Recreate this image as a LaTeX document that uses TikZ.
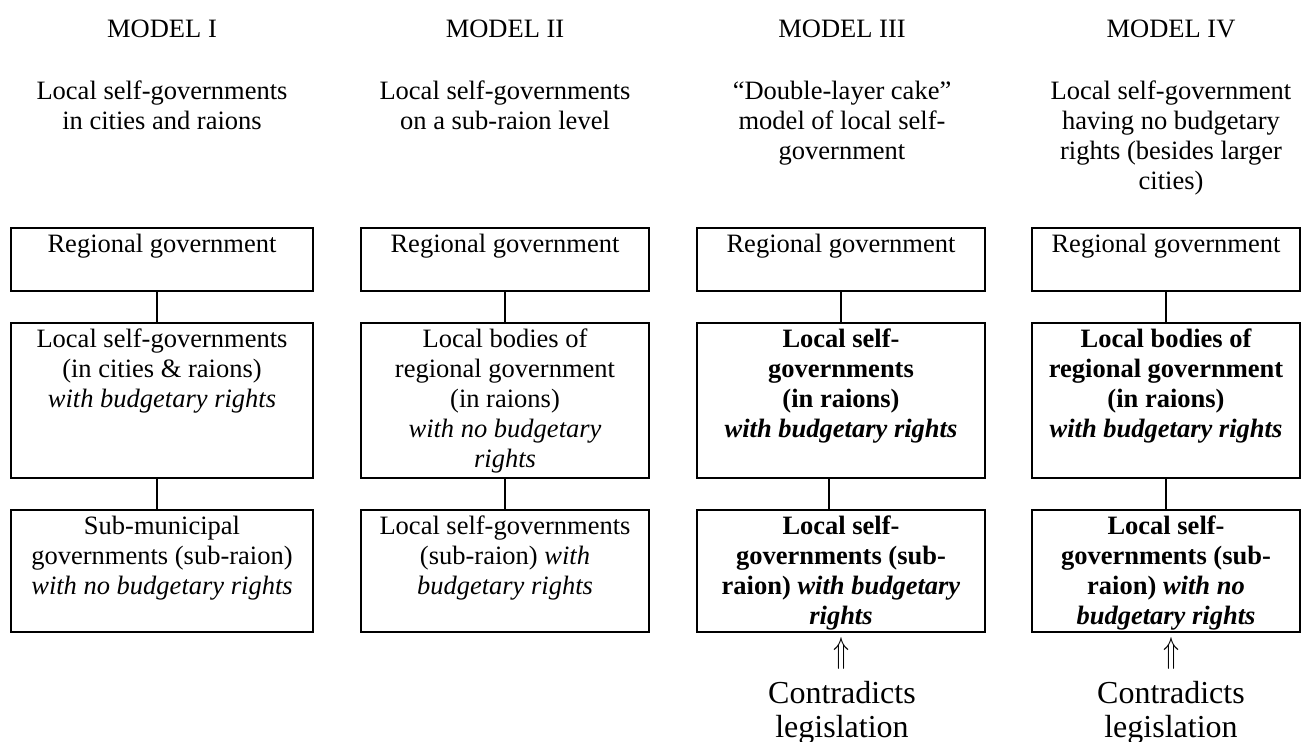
\documentclass[tikz,border=0pt]{standalone}
\usepackage{fontspec}
\usepackage{graphicx}
\setmainfont{Liberation Serif}
\newcommand{\bxc}[3]{\parbox[c][#2][t]{#1}{\centering\rule{0pt}{24pt}#3}}
\newcommand{\hdc}[2]{\parbox[t]{#1}{\centering #2}}
\newcommand{\uparrsym}{\resizebox{16pt}{25pt}{$\Uparrow$}}
\begin{document}
\begin{tikzpicture}[x=1pt,y=-1pt,
  every node/.style={inner sep=0pt, outer sep=0pt},
  govbox/.style={draw, line width=2.6pt, anchor=center, font=\fontsize{26.5}{30}\selectfont},
  link/.style={line width=2.6pt},
  txt/.style={font=\fontsize{26.5}{30}\selectfont, anchor=base},
  big/.style={font=\fontsize{32}{34}\selectfont, anchor=base},
  uparr/.style={anchor=center}
]
\useasboundingbox (0,0) rectangle (1302,742);

% headers
\node[txt] (h1) at (162,37) {MODEL I};
\node[txt] (h2) at (505,37) {MODEL II};
\node[txt] (h3) at (842,37) {MODEL III};
\node[txt] (h4) at (1171,37) {MODEL IV};

\node[txt] (s1) at (162,99) {\hdc{300pt}{Local self-governments\\in cities and raions}};
\node[txt] (s2) at (505,99) {\hdc{300pt}{Local self-governments\\on a sub-raion level}};
\node[txt] (s3) at (842,99) {\hdc{300pt}{“Double-layer cake”\\model of local self-\\government}};
\node[txt] (s4) at (1171,99) {\hdc{300pt}{Local self-government\\having no budgetary\\rights (besides larger\\cities)}};

% column 1
\node[govbox] (t1) at (162,259.5) {\bxc{302pt}{63pt}{Regional government}};
\node[govbox] (m1) at (162,400.5) {\bxc{302pt}{155pt}{Local self-governments\\(in cities \& raions)\\\itshape with budgetary rights}};
\node[govbox] (l1) at (162,571) {\bxc{302pt}{122pt}{Sub-municipal\\governments (sub-raion)\\\itshape with no budgetary rights}};

% column 2
\node[govbox] (t2) at (505,259.5) {\bxc{288pt}{63pt}{Regional government}};
\node[govbox] (m2) at (505,400.5) {\bxc{288pt}{155pt}{Local bodies of\\regional government\\(in raions)\\\itshape with no budgetary\\rights}};
\node[govbox] (l2) at (505,571) {\bxc{288pt}{122pt}{Local self-governments\\(sub-raion) \textit{with}\\\itshape budgetary rights}};

% column 3
\node[govbox] (t3) at (841,259.5) {\bxc{288pt}{63pt}{Regional government}};
\node[govbox] (m3) at (841,400.5) {\bxc{288pt}{155pt}{\bfseries Local self-\\governments\\(in raions)\\\itshape with budgetary rights}};
\node[govbox] (l3) at (841,571) {\bxc{288pt}{122pt}{\bfseries Local self-\\governments (sub-\\raion) \textit{with budgetary}\\\itshape rights}};

% column 4
\node[govbox] (t4) at (1166,259.5) {\bxc{268pt}{63pt}{Regional government}};
\node[govbox] (m4) at (1166,400.5) {\bxc{268pt}{155pt}{\bfseries Local bodies of\\regional government\\(in raions)\\\itshape with budgetary rights}};
\node[govbox] (l4) at (1166,571) {\bxc{268pt}{122pt}{\bfseries Local self-\\governments (sub-\\raion) \textit{with no}\\\itshape budgetary rights}};

% connectors
\draw[link] ([xshift=-5pt]t1.south) -- ([xshift=-5pt]m1.north);
\draw[link] ([xshift=-5pt]m1.south) -- ([xshift=-5pt]l1.north);
\draw[link] (t2.south) -- (m2.north);
\draw[link] (m2.south) -- (l2.north);
\draw[link] (t3.south) -- (m3.north);
\draw[link] ([xshift=-12pt]m3.south) -- ([xshift=-12pt]l3.north);
\draw[link] (t4.south) -- (m4.north);
\draw[link] (m4.south) -- (l4.north);

% contradicts
\node[uparr] (a3) at (841,653) {\uparrsym};
\node[uparr] (a4) at (1171,653) {\uparrsym};
\node[big] (c3) at (842,703) {\hdc{260pt}{Contradicts\\legislation}};
\node[big] (c4) at (1171,703) {\hdc{260pt}{Contradicts\\legislation}};
\end{tikzpicture}
\end{document}
